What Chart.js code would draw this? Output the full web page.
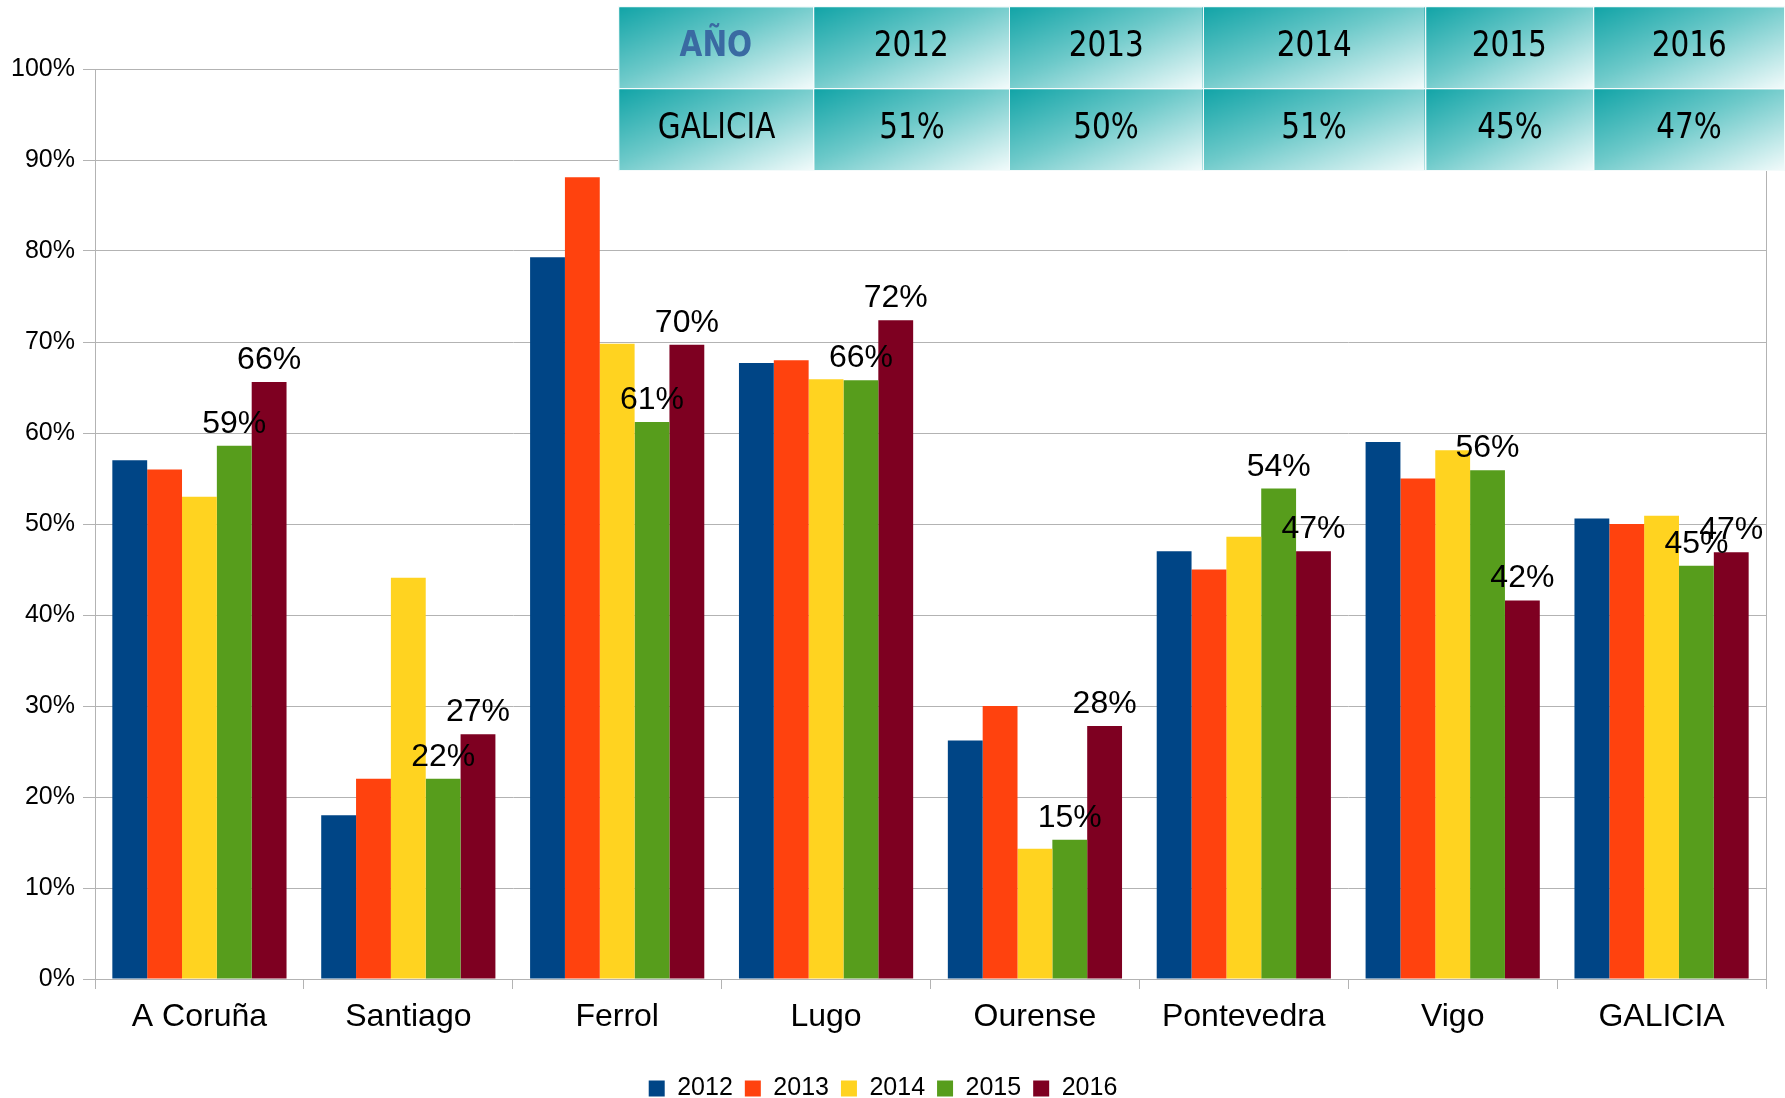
<!DOCTYPE html>
<html>
<head>
<meta charset="utf-8">
<script src="https://cdn.jsdelivr.net/npm/chart.js@4/dist/chart.umd.min.js"></script>
<style>
  html, body { margin: 0; padding: 0; background: #ffffff; }
  #wrap { position: relative; width: 1785px; height: 1098px; overflow: hidden; }
  #c { position: absolute; left: 0; top: 0; }
  #tbl { position: absolute; left: 618px; top: 6px; border-collapse: collapse; table-layout: fixed; }
  #tbl td {
    height: 81px; padding: 0; text-align: center; vertical-align: middle;
    border: 1px solid #f4fbfb;
    background: linear-gradient(to bottom right, #12a4a7 0%, #6cc9c9 45%, #f2fbfb 100%);
    font-family: "Liberation Sans Narrow", "DejaVu Sans Condensed", "Liberation Sans", sans-serif;
    font-size: 36px; color: #000000;
  }
  #tbl td span { display: inline-block; transform: translateY(-4px) scaleX(0.91); }
  #tbl td.hdr { color: #3a6aa2; font-weight: bold; }
</style>
</head>
<body>
<div id="wrap">
  <canvas id="c" width="1785" height="1098"></canvas>
  <table id="tbl"><tbody id="tb"></tbody></table>
</div>
<script>
const categories = ["A Coruña", "Santiago", "Ferrol", "Lugo", "Ourense", "Pontevedra", "Vigo", "GALICIA"];
const years = ["2012", "2013", "2014", "2015", "2016"];
const v2012 = [57.0, 18.0, 79.3, 67.7, 26.2, 47.0, 59.0, 50.6];
const v2013 = [56.0, 22.0, 88.1, 68.0, 30.0, 45.0, 55.0, 50.0];
const v2014 = [53.0, 44.1, 69.8, 65.9, 14.3, 48.6, 58.1, 50.9];
const v2015 = [58.6, 22.0, 61.2, 65.8, 15.3, 53.9, 55.9, 45.4];
const v2016 = [65.6, 26.9, 69.7, 72.4, 27.8, 47.0, 41.6, 46.9];
const yTicks = [0, 10, 20, 30, 40, 50, 60, 70, 80, 90, 100];
const tableHeader = ["AÑO", "2012", "2013", "2014", "2015", "2016"];
const tableRow = ["GALICIA", "51%", "50%", "51%", "45%", "47%"];
const colours = ["#004586", "#ff420e", "#ffd320", "#579d1c", "#7e0021"];
const labelledSeries = [3, 4];

// table overlay
const colWidths = [195, 196, 194, 223, 168, 191];
const tb = document.getElementById('tb');
[tableHeader, tableRow].forEach((row, r) => {
  const tr = document.createElement('tr');
  row.forEach((txt, i) => {
    const td = document.createElement('td');
    const sp = document.createElement('span');
    sp.textContent = txt;
    td.appendChild(sp);
    td.style.width = colWidths[i] + 'px';
    if (r === 0 && i === 0) td.className = 'hdr';
    tr.appendChild(td);
  });
  tb.appendChild(tr);
});

const series = [v2012, v2013, v2014, v2015, v2016];
const GRID = '#b3b3b3';
const FONT = '"Liberation Sans", Arial, sans-serif';

const borderPlugin = {
  id: 'plotBorder',
  beforeDatasetsDraw(chart) {
    const a = chart.chartArea, ctx = chart.ctx;
    ctx.save();
    ctx.strokeStyle = GRID;
    ctx.lineWidth = 1;
    ctx.strokeRect(Math.round(a.left) + 0.5, Math.round(a.top) + 0.5, Math.round(a.right - a.left), Math.round(a.bottom - a.top));
    ctx.restore();
  }
};

const labelPlugin = {
  id: 'valueLabels',
  afterDatasetsDraw(chart) {
    const ctx = chart.ctx;
    ctx.save();
    ctx.font = '32px ' + FONT;
    ctx.fillStyle = '#000000';
    ctx.textAlign = 'center';
    ctx.textBaseline = 'alphabetic';
    labelledSeries.forEach(di => {
      const meta = chart.getDatasetMeta(di);
      meta.data.forEach((el, i) => {
        const v = chart.data.datasets[di].data[i];
        ctx.fillText(Math.round(v) + '%', el.x, el.y - 13);
      });
    });
    ctx.restore();
  }
};

new Chart(document.getElementById('c'), {
  type: 'bar',
  data: {
    labels: categories,
    datasets: years.map((y, i) => ({
      label: y,
      data: series[i],
      backgroundColor: colours[i],
      borderWidth: 0,
      categoryPercentage: 0.834,
      barPercentage: 1.0
    }))
  },
  options: {
    responsive: false,
    animation: false,
    layout: { padding: { top: 69, right: 19, left: 0, bottom: -13 } },
    plugins: {
      legend: {
        position: 'bottom',
        labels: {
          boxWidth: 16, boxHeight: 16, padding: 12,
          color: '#000000',
          font: { family: FONT, size: 25 }
        }
      },
      tooltip: { enabled: false }
    },
    scales: {
      x: {
        grid: { drawOnChartArea: false, drawTicks: true, tickLength: 10, color: GRID, offset: true },
        border: { display: true, color: GRID },
        ticks: { color: '#000000', font: { family: FONT, size: 32 }, padding: 9, maxRotation: 0 },
        afterFit(s) { s.height = 85; }
      },
      y: {
        min: 0, max: 100,
        afterBuildTicks(s) { s.ticks = yTicks.map(v => ({ value: v })); },
        grid: { color: GRID, tickLength: 12, drawTicks: true },
        border: { display: true, color: GRID },
        ticks: { color: '#000000', font: { family: FONT, size: 25 }, padding: 8, callback: v => v + '%' },
        afterFit(s) { s.width = 95; }
      }
    }
  },
  plugins: [borderPlugin, labelPlugin]
});
</script>
</body>
</html>
